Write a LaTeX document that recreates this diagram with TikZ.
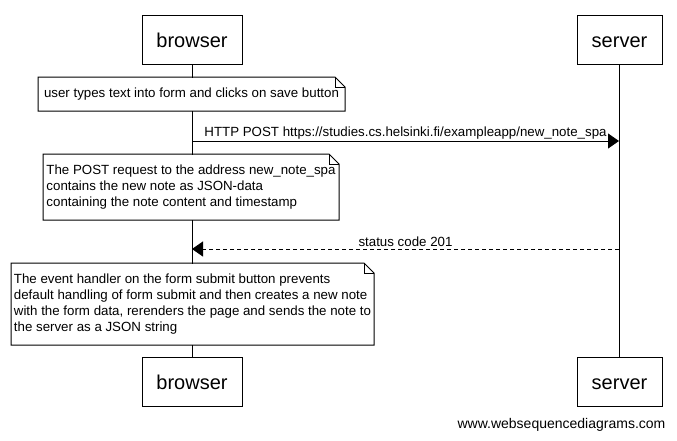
\documentclass[tikz,border=0pt]{standalone}
\usepackage{fontspec}
\setmainfont{Liberation Sans}
\usetikzlibrary{arrows.meta}
\newcommand\drawnotefold[1]{%
  \draw (#1.north west) -- ([xshift=-10pt]#1.north east) -- ([yshift=-10pt]#1.north east) -- (#1.south east) -- (#1.south west) -- cycle;
  \draw[line width=0.6pt] ([xshift=-10pt]#1.north east) -- ([xshift=-10pt,yshift=-10pt]#1.north east) -- ([yshift=-10pt]#1.north east);}
\begin{document}
\begin{tikzpicture}[x=1pt,y=-1pt,line width=1pt,
  actor/.style={draw, fill=white, minimum width=#1, minimum height=49pt, inner sep=0pt, text height=15pt, text depth=0pt, font=\fontsize{20}{24}\selectfont},
  notebox/.style={fill=white, draw=none, inner sep=0pt, align=left, anchor=north west, font=\fontsize{13.3}{16}\selectfont},
  msg/.style={font=\fontsize{13.3}{16}\selectfont, inner sep=1.5pt, above},
  head/.style={-{Triangle[length=11pt,width=15pt]}},
  reply/.style={head, dash pattern=on 4pt off 3pt}
]
\useasboundingbox (0,0) rectangle (677,440);
% actors
\node[actor=100pt] (bt) at (192,39.5) {browser};
\node[actor=85pt] (st) at (619.5,39.5) {server};
\node[actor=100pt] (bb) at (192,381.5) {browser};
\node[actor=85pt] (sb) at (619.5,381.5) {server};
% lifelines
\draw (bt.south) -- (bb.north);
\draw (st.south) -- (sb.north);
% note 1
\node[notebox, minimum width=306pt, minimum height=33pt] (n1) at (38,77) {user types text into form and clicks on save button};
\drawnotefold{n1}
% message 1
\coordinate (bp) at (192,141);
\coordinate (sp) at (619,141);
\draw[head] (bp) -- node[msg] {HTTP POST https://studies.cs.helsinki.fi/exampleapp/new\_note\_spa} (sp);
% note 2
\node[notebox, minimum width=295pt, minimum height=65pt] (n2) at (43,154) {The POST request to the address new\_note\_spa\\contains the new note as JSON-data\\containing the note content and timestamp};
\drawnotefold{n2}
% message 2
\coordinate (sr) at (619,249);
\coordinate (br) at (192,249);
\draw[reply] (sr) -- node[msg] {status code 201} (br);
% note 3
\node[notebox, minimum width=362pt, minimum height=81pt] (n3) at (11,263) {The event handler on the form submit button prevents\\default handling of form submit and then creates a new note\\with the form data, rerenders the page and sends the note to\\the server as a JSON string};
\drawnotefold{n3}
% watermark
\node[font=\fontsize{14}{16}\selectfont, inner sep=0pt] (wm) at (561.5,425) {www.websequencediagrams.com};
\end{tikzpicture}
\end{document}
